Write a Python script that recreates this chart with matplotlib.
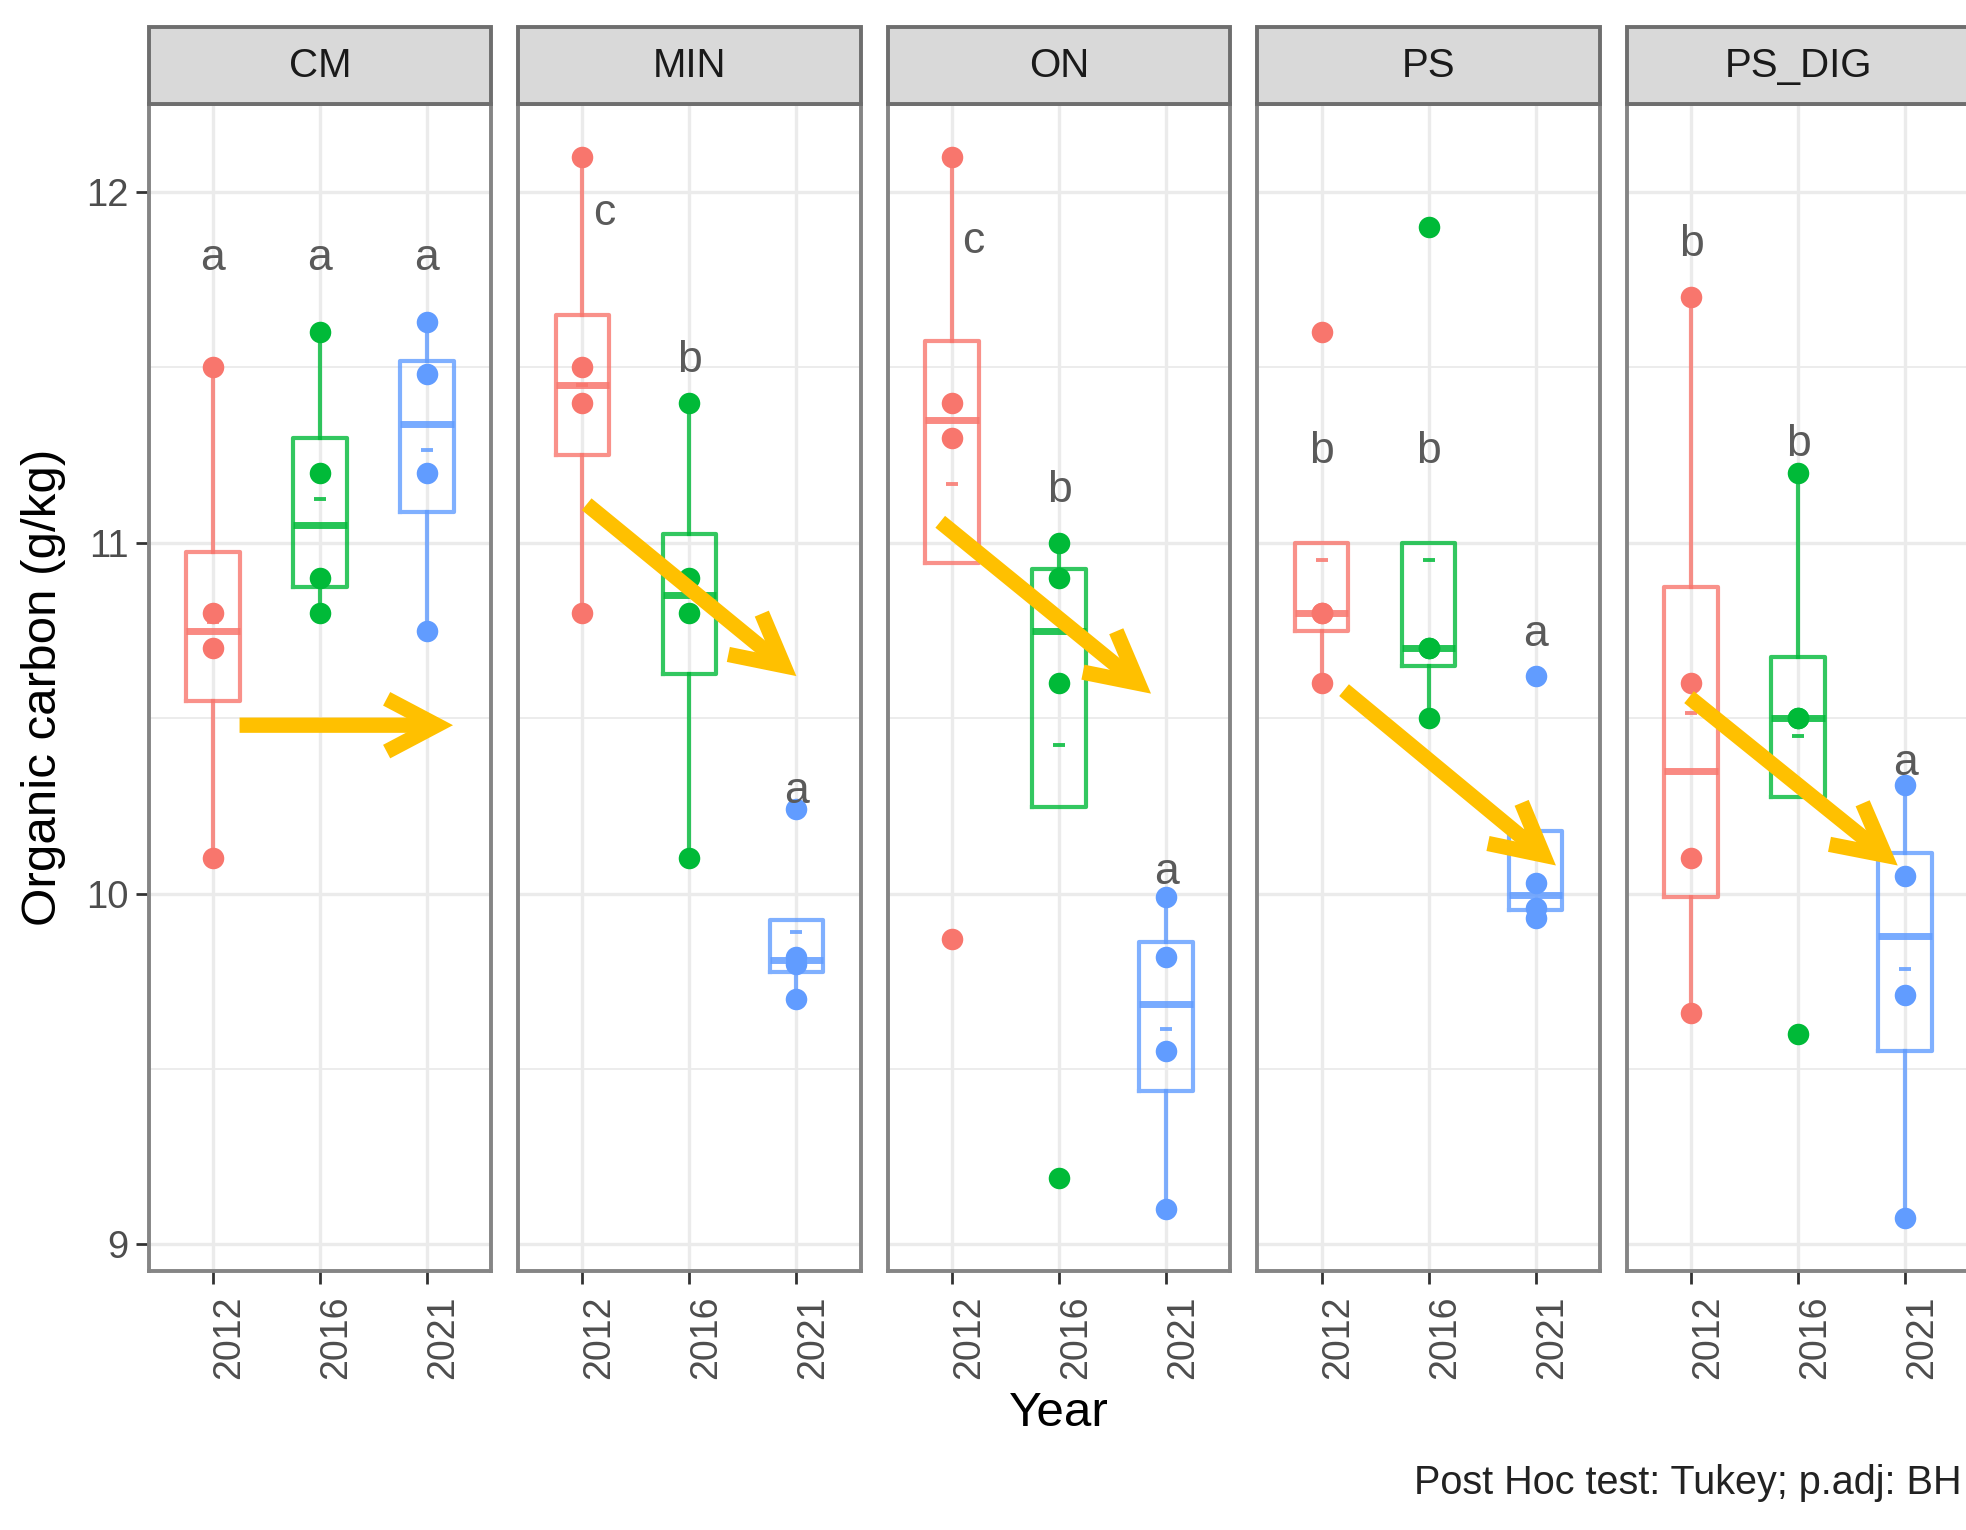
import matplotlib
matplotlib.use("Agg")
import matplotlib.pyplot as plt
import matplotlib.transforms as mtransforms
from matplotlib.patches import Rectangle, FancyArrowPatch, ArrowStyle
import numpy as np

plt.rcParams['font.family'] = ['Liberation Sans', 'DejaVu Sans']

# ---------------- data ----------------
treatments = ['CM', 'MIN', 'ON', 'PS', 'PS_DIG']
years = ['2012', '2016', '2021']
year_colors = ['#F8766D', '#00BA38', '#619CFF']

cm_values = [[10.1, 10.7, 10.8, 11.5], [10.8, 10.9, 11.2, 11.6], [10.75, 11.2, 11.48, 11.63]]
min_values = [[10.8, 11.4, 11.5, 12.1], [10.1, 10.8, 10.9, 11.4], [9.70, 9.80, 9.82, 10.24]]
on_values = [[9.87, 11.3, 11.4, 12.1], [9.19, 10.6, 10.9, 11.0], [9.10, 9.55, 9.82, 9.99]]
ps_values = [[10.6, 10.8, 10.8, 11.6], [10.5, 10.7, 10.7, 11.9], [9.93, 9.96, 10.03, 10.62]]
ps_dig_values = [[9.66, 10.1, 10.6, 11.7], [9.6, 10.5, 10.5, 11.2], [9.075, 9.71, 10.05, 10.31]]

cm_letters = ['a', 'a', 'a']
min_letters = ['c', 'b', 'a']
on_letters = ['c', 'b', 'a']
ps_letters = ['b', 'b', 'a']
ps_dig_letters = ['b', 'b', 'a']

all_values = [cm_values, min_values, on_values, ps_values, ps_dig_values]
all_letters = [cm_letters, min_letters, on_letters, ps_letters, ps_dig_letters]

# annotation placement (letters and hand-drawn arrows)
letter_y = [[11.81, 11.81, 11.81], [11.94, 11.52, 10.29], [11.86, 11.15, 10.06],
            [11.26, 11.26, 10.74], [11.85, 11.28, 10.37]]
letter_dx = [[0, 0, 0], [0.2, 0, 0], [0.2, 0, 0], [0, 0, 0], [0, 0, 0]]
arrows = [((1.25, 10.48), (3.245, 10.48)),
          ((1.04, 11.11), (3.00, 10.62)),
          ((0.89, 11.06), (2.86, 10.57)),
          ((1.21, 10.58), (3.19, 10.08)),
          ((0.98, 10.56), (2.93, 10.08))]

# ---------------- layout ----------------
W, H = 1966, 1530
fig = plt.figure(figsize=(W / 100, H / 100), dpi=100)

panel_left0 = 148.6
panel_step = 369.6
panel_w = 342.4
top_px, bot_px = 104, 1271
strip_h = 77

ymin_all = min(min(min(g) for g in v) for v in all_values)
ymax_all = max(max(max(g) for g in v) for v in all_values)
rng = ymax_all - ymin_all
ylim = (ymin_all - 0.05 * rng, ymax_all + 0.05 * rng)

border_col = '#858585'
grid_col = '#ebebeb'
text_gray = '#4d4d4d'
positions = [1, 2, 3]

for i, (name, vals, letters) in enumerate(zip(treatments, all_values, all_letters)):
    left = panel_left0 + i * panel_step
    ax = fig.add_axes([left / W, 1 - bot_px / H, panel_w / W, (bot_px - top_px) / H])
    ax.set_xlim(0.4, 3.6)
    ax.set_ylim(*ylim)
    ax.set_yticks([9, 10, 11, 12])
    ax.set_yticks([9.5, 10.5, 11.5], minor=True)
    ax.set_xticks(positions)
    ax.set_xticklabels(years, rotation=90, fontsize=27, color=text_gray)
    ax.set_axisbelow(True)
    ax.grid(which='major', color=grid_col, lw=2.4)
    ax.grid(which='minor', axis='y', color=grid_col, lw=1.3)
    for sp in ax.spines.values():
        sp.set_color(border_col)
        sp.set_linewidth(2.8)
        sp.set_zorder(5)
    ax.tick_params(which='minor', length=0)
    ax.tick_params(axis='x', length=9.5, width=2, color='#333333', pad=8)
    shift = mtransforms.ScaledTranslation(12 / 72, 0, fig.dpi_scale_trans)
    for lab in ax.get_xticklabels():
        lab.set_transform(lab.get_transform() + shift)
    if i == 0:
        ax.tick_params(axis='y', length=9.5, width=2, color='#333333', pad=5,
                       labelsize=27.5, labelcolor=text_gray)
    else:
        ax.tick_params(axis='y', left=False, labelleft=False)

    bp = ax.boxplot(vals, positions=positions, widths=0.5, showfliers=False,
                    showcaps=False, whis=1.5, manage_ticks=False)
    for j, c in enumerate(year_colors):
        bp['boxes'][j].set(color=c, lw=3.0, alpha=0.8, zorder=2)
        bp['medians'][j].set(color=c, lw=5.0, alpha=0.85, zorder=2)
        for w in bp['whiskers'][2 * j:2 * j + 2]:
            w.set(color=c, lw=3.0, alpha=0.8, zorder=2)
        ax.plot(positions[j], np.mean(vals[j]), marker='_', ms=8, mew=2.8,
                color=c, alpha=0.85, zorder=3, linestyle='none')
        ax.plot([positions[j]] * len(vals[j]), vals[j], marker='o', ms=15.5,
                color=c, linestyle='none', zorder=4, markeredgewidth=0)
        ax.text(positions[j] + letter_dx[i][j], letter_y[i][j], letters[j],
                ha='center', va='center', fontsize=32, color='#5a5a5a', zorder=6)

    (x0, y0), (x1, y1) = arrows[i]
    arr = FancyArrowPatch((x0, y0), (x1, y1),
                          arrowstyle=ArrowStyle('->', head_length=36, head_width=19),
                          mutation_scale=1, lw=11, color='#FFC000',
                          shrinkA=0, shrinkB=0, zorder=7,
                          capstyle='butt', joinstyle='miter')
    ax.add_patch(arr)

    # facet strip
    sh = strip_h / (bot_px - top_px)
    ax.add_patch(Rectangle((0, 1), 1, sh, transform=ax.transAxes, clip_on=False,
                           facecolor='#d9d9d9', edgecolor='#6e6e6e', lw=2.8, zorder=6))
    ax.text(0.5, 1 + sh / 2, name, transform=ax.transAxes, ha='center', va='center',
            fontsize=29, color='#1a1a1a', zorder=7)

fig.text(44 / W, 1 - 687 / H, 'Organic carbon (g/kg)', rotation=90, ha='center',
         va='center', fontsize=35.5, color='black')
fig.text(1059 / W, 1 - 1414 / H, 'Year', ha='center', va='center', fontsize=35.5,
         color='black')
fig.text(1414 / W, 1 - 1483 / H, 'Post Hoc test: Tukey; p.adj: BH', ha='left',
         va='center', fontsize=28.5, color='#222222')

fig.savefig('out.png', dpi=100)
